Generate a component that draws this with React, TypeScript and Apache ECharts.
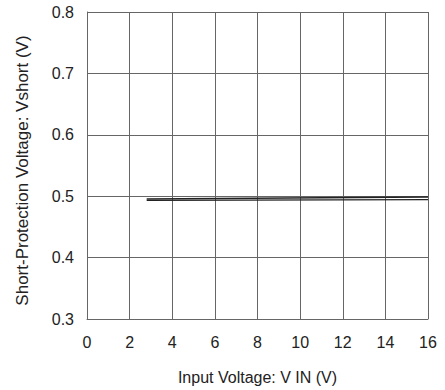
import React, { useEffect, useRef } from "react";
import * as echarts from "echarts";

const xTicks = [0, 2, 4, 6, 8, 10, 12, 14, 16];
const vinPoints = [2.8, 16];
const vshortUpper = [0.4954, 0.4987];
const vshortLower = [0.4932, 0.4943];
const xAxisTitle = "Input Voltage: V IN (V)";
const yAxisTitle = "Short-Protection Voltage: Vshort (V)";

export default function App() {
  const ref = useRef<HTMLDivElement>(null);
  useEffect(() => {
    if (!ref.current) return;
    const chart = echarts.init(ref.current, null, { renderer: "svg" });
    const font = "'Liberation Sans', Arial, sans-serif";
    const gridColor = "#666";
    chart.setOption({
      animation: false,
      backgroundColor: "#fff",
      grid: { left: 87, right: 17, top: 12, bottom: 71 },
      xAxis: {
        type: "value",
        min: xTicks[0],
        max: xTicks[xTicks.length - 1],
        interval: 2,
        name: xAxisTitle,
        nameLocation: "middle",
        nameGap: 50,
        nameTextStyle: { color: "#222", fontSize: 16, fontFamily: font },
        axisLine: { show: true, lineStyle: { color: gridColor, width: 1 } },
        axisTick: { show: false },
        axisLabel: { color: "#222", fontSize: 16, fontFamily: font, margin: 15 },
        splitLine: { show: true, lineStyle: { color: gridColor, width: 1 } },
      },
      yAxis: {
        type: "value",
        min: 0.3,
        max: 0.8,
        interval: 0.1,
        name: yAxisTitle,
        nameLocation: "middle",
        nameGap: 56,
        nameTextStyle: {
          color: "#222",
          fontSize: 17,
          fontFamily: font,
          padding: [0, 10, 0, 0],
        },
        axisLine: { show: true, lineStyle: { color: gridColor, width: 1 } },
        axisTick: { show: false },
        axisLabel: {
          color: "#222",
          fontSize: 16,
          fontFamily: font,
          margin: 13,
          formatter: (v: number) => v.toFixed(1),
        },
        splitLine: { show: true, lineStyle: { color: gridColor, width: 1 } },
      },
      series: [
        {
          type: "line",
          data: vinPoints.map((x, i) => [x, vshortUpper[i]]),
          showSymbol: false,
          lineStyle: { color: "#222", width: 1.3 },
        },
        {
          type: "line",
          data: vinPoints.map((x, i) => [x, vshortLower[i]]),
          showSymbol: false,
          lineStyle: { color: "#222", width: 1.3 },
        },
      ],
    });
    return () => chart.dispose();
  }, []);
  return (
    <div
      ref={ref}
      style={{ position: "fixed", left: 0, top: 0, width: 445, height: 390 }}
    />
  );
}
